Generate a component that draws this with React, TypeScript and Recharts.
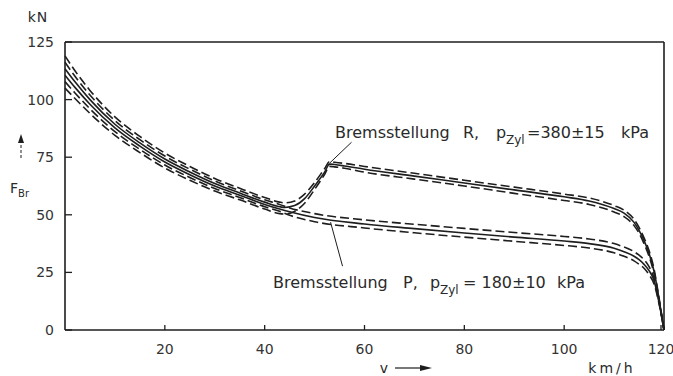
import { LineChart, Line, XAxis, YAxis, ReferenceLine } from 'recharts'

// speeds in km/h, forces in kN
const vLow = [0, 2, 5, 10, 15, 20, 25, 30, 35, 40, 43]
const rUpLow = [119, 112.5, 104, 92.5, 84, 76.8, 71, 65.8, 61.5, 57.5, 55.5]
const pUpLow = [116.2, 110.1, 102, 90.9, 82.6, 75.5, 69.8, 64.7, 60.5, 56.5, 54.5]
const rMidLow = [113.4, 107.7, 100, 89.3, 81.2, 74.2, 68.6, 63.6, 59.5, 55.5, 53.5]
const pMidLow = [110.6, 105.3, 98, 87.7, 79.8, 72.9, 67.4, 62.5, 58.5, 54.5, 52.5]
const pLoLow = [107.8, 102.9, 96, 86.1, 78.4, 71.6, 66.2, 61.4, 57.5, 53.5, 51.5]
const rLoLow = [105, 100.5, 94, 84.5, 77, 70.3, 65, 60.3, 56.5, 52.5, 50.5]

const vR = [44, 46, 48, 50, 52, 53, 54, 56, 60, 70, 80, 90, 100, 105, 110, 112, 114, 115, 116, 117, 118, 119, 120]
const rUpHigh = [55.2, 56, 59, 64, 70, 73, 72.8, 72.3, 71, 68, 65, 62, 59, 57.3, 54, 52, 48, 44.5, 40, 34.5, 26.5, 14, 0]
const rMidHigh = [53.2, 54, 57, 62.5, 68.5, 72, 71.8, 71.2, 69.8, 66.8, 63.8, 60.8, 57.8, 56, 52.7, 50.7, 46.7, 43.2, 38.8, 33.3, 25.5, 13.5, 0]
const rLoHigh = [50.3, 51.5, 55, 61, 67.5, 71, 70.8, 70.2, 68.5, 65.5, 62.5, 59.3, 56.2, 54.5, 51.2, 49.2, 45.3, 42, 37.5, 32, 24.5, 13, 0]

const vP = [45, 50, 60, 70, 80, 90, 100, 105, 110, 112, 114, 115, 116, 117, 118, 119, 120]
const pUpHigh = [53, 50.5, 47.8, 45.9, 44.1, 42.3, 40.6, 39.5, 37.5, 36, 34, 32.5, 30.5, 27.5, 22.5, 12.5, 0]
const pMidHigh = [51.3, 48.8, 46, 44, 42.1, 40.3, 38.6, 37.5, 35.5, 34, 32, 30.5, 28.5, 25.8, 21.5, 12, 0]
const pLoHigh = [49.8, 47, 44.3, 42.2, 40.3, 38.5, 36.7, 35.6, 33.5, 32, 30, 28.5, 26.8, 24, 20, 11.5, 0]

const xTicks = [20, 40, 60, 80, 100, 120]
const yTicks = [0, 25, 50, 75, 100, 125]

const toPoints = (vs: number[], fs: number[]) => vs.map((v, i) => ({ v, f: fs[i] }))

const rUp = toPoints([...vLow, ...vR], [...rUpLow, ...rUpHigh])
const rMid = toPoints([...vLow, ...vR], [...rMidLow, ...rMidHigh])
const rLo = toPoints([...vLow, ...vR], [...rLoLow, ...rLoHigh])
const pUp = toPoints([...vLow, ...vP], [...pUpLow, ...pUpHigh])
const pMid = toPoints([...vLow, ...vP], [...pMidLow, ...pMidHigh])
const pLo = toPoints([...vLow, ...vP], [...pLoLow, ...pLoHigh])

const ink = '#1e1e1e'
const font = '"DejaVu Sans", sans-serif'

const YTick = (props: any) => {
  const { x, y, payload } = props
  return (
    <g>
      <line x1={x} x2={x + 7} y1={y} y2={y} stroke={ink} strokeWidth={1.3} />
      <text x={x - 11} y={y} dy="0.35em" textAnchor="end" fontSize={14} fontFamily={font} fill="#333">
        {payload.value}
      </text>
    </g>
  )
}

const XTick = (props: any) => {
  const { x, y, payload } = props
  return (
    <g>
      <line x1={x} x2={x} y1={y} y2={y - 5} stroke={ink} strokeWidth={1.3} />
      <text x={x} y={y + 19} dy="0.35em" textAnchor="middle" fontSize={14} fontFamily={font} fill="#333">
        {payload.value}
      </text>
    </g>
  )
}

const lineProps = {
  dataKey: 'f',
  type: 'monotone' as const,
  dot: false,
  stroke: ink,
  strokeWidth: 1.6,
  isAnimationActive: false,
}

export default function App() {
  return (
    <div style={{ position: 'fixed', left: 0, top: 0, width: 673, height: 376, background: '#fff' }}>
      <LineChart width={673} height={376} margin={{ top: 42, right: 9, bottom: 0, left: 0 }}>
        <XAxis
          dataKey="v"
          type="number"
          domain={[0, 120]}
          ticks={xTicks}
          height={46}
          tickSize={0}
          tickMargin={0}
          tick={<XTick />}
          axisLine={{ stroke: ink, strokeWidth: 1.6 }}
          allowDuplicatedCategory={false}
        />
        <YAxis
          type="number"
          domain={[0, 125]}
          ticks={yTicks}
          width={65}
          tickSize={0}
          tickMargin={0}
          tick={<YTick />}
          axisLine={{ stroke: ink, strokeWidth: 1.6 }}
        />
        <ReferenceLine y={125} stroke={ink} strokeWidth={1.6} />
        <ReferenceLine x={120} stroke={ink} strokeWidth={1.6} />
        <ReferenceLine segment={[{ x: 53, y: 72.4 }, { x: 57.4, y: 81.5 }]} stroke={ink} strokeWidth={1} />
        <ReferenceLine segment={[{ x: 53.2, y: 46.8 }, { x: 55.6, y: 27.7 }]} stroke={ink} strokeWidth={1} />
        <Line data={rUp} {...lineProps} strokeDasharray="9 4" />
        <Line data={rMid} {...lineProps} />
        <Line data={rLo} {...lineProps} strokeDasharray="9 4" />
        <Line data={pUp} {...lineProps} strokeDasharray="9 4" />
        <Line data={pMid} {...lineProps} />
        <Line data={pLo} {...lineProps} strokeDasharray="9 4" />
      </LineChart>
      <svg
        width={673}
        height={376}
        style={{ position: 'absolute', left: 0, top: 0, pointerEvents: 'none' }}
        fontFamily={font}
        fill="#2a2a2a"
      >
        <text x={38} y={22} fontSize={14} textAnchor="middle" letterSpacing={1}>kN</text>
        <line x1={21} x2={21} y1={158} y2={142} stroke={ink} strokeWidth={1} strokeDasharray="3 2" />
        <polygon points="21,134 18,143 24,143" fill={ink} />
        <text x={10} y={193} fontSize={14}>
          F<tspan fontSize={10} dy={4}>Br</tspan>
        </text>
        <text x={384} y={373} fontSize={14} textAnchor="middle">v</text>
        <line x1={395} x2={424} y1={368} y2={368} stroke={ink} strokeWidth={1.2} />
        <polygon points="432,368 420,365 420,371" fill={ink} />
        <text x={612} y={373} fontSize={14} textAnchor="middle" letterSpacing={3}>km/h</text>

        <text y={138} fontSize={16}>
          <tspan x={335}>Bremsstellung</tspan>
          <tspan x={463}>R,</tspan>
          <tspan x={496}>p</tspan>
          <tspan x={506} dy={6} fontSize={12}>Zyl</tspan>
          <tspan x={527} dy={-6}>=380±15</tspan>
          <tspan x={621}>kPa</tspan>
        </text>
        <text y={288} fontSize={16}>
          <tspan x={273}>Bremsstellung</tspan>
          <tspan x={403}>P,</tspan>
          <tspan x={430}>p</tspan>
          <tspan x={440} dy={6} fontSize={12}>Zyl</tspan>
          <tspan x={463} dy={-6}>= 180±10</tspan>
          <tspan x={557}>kPa</tspan>
        </text>
      </svg>
    </div>
  )
}
